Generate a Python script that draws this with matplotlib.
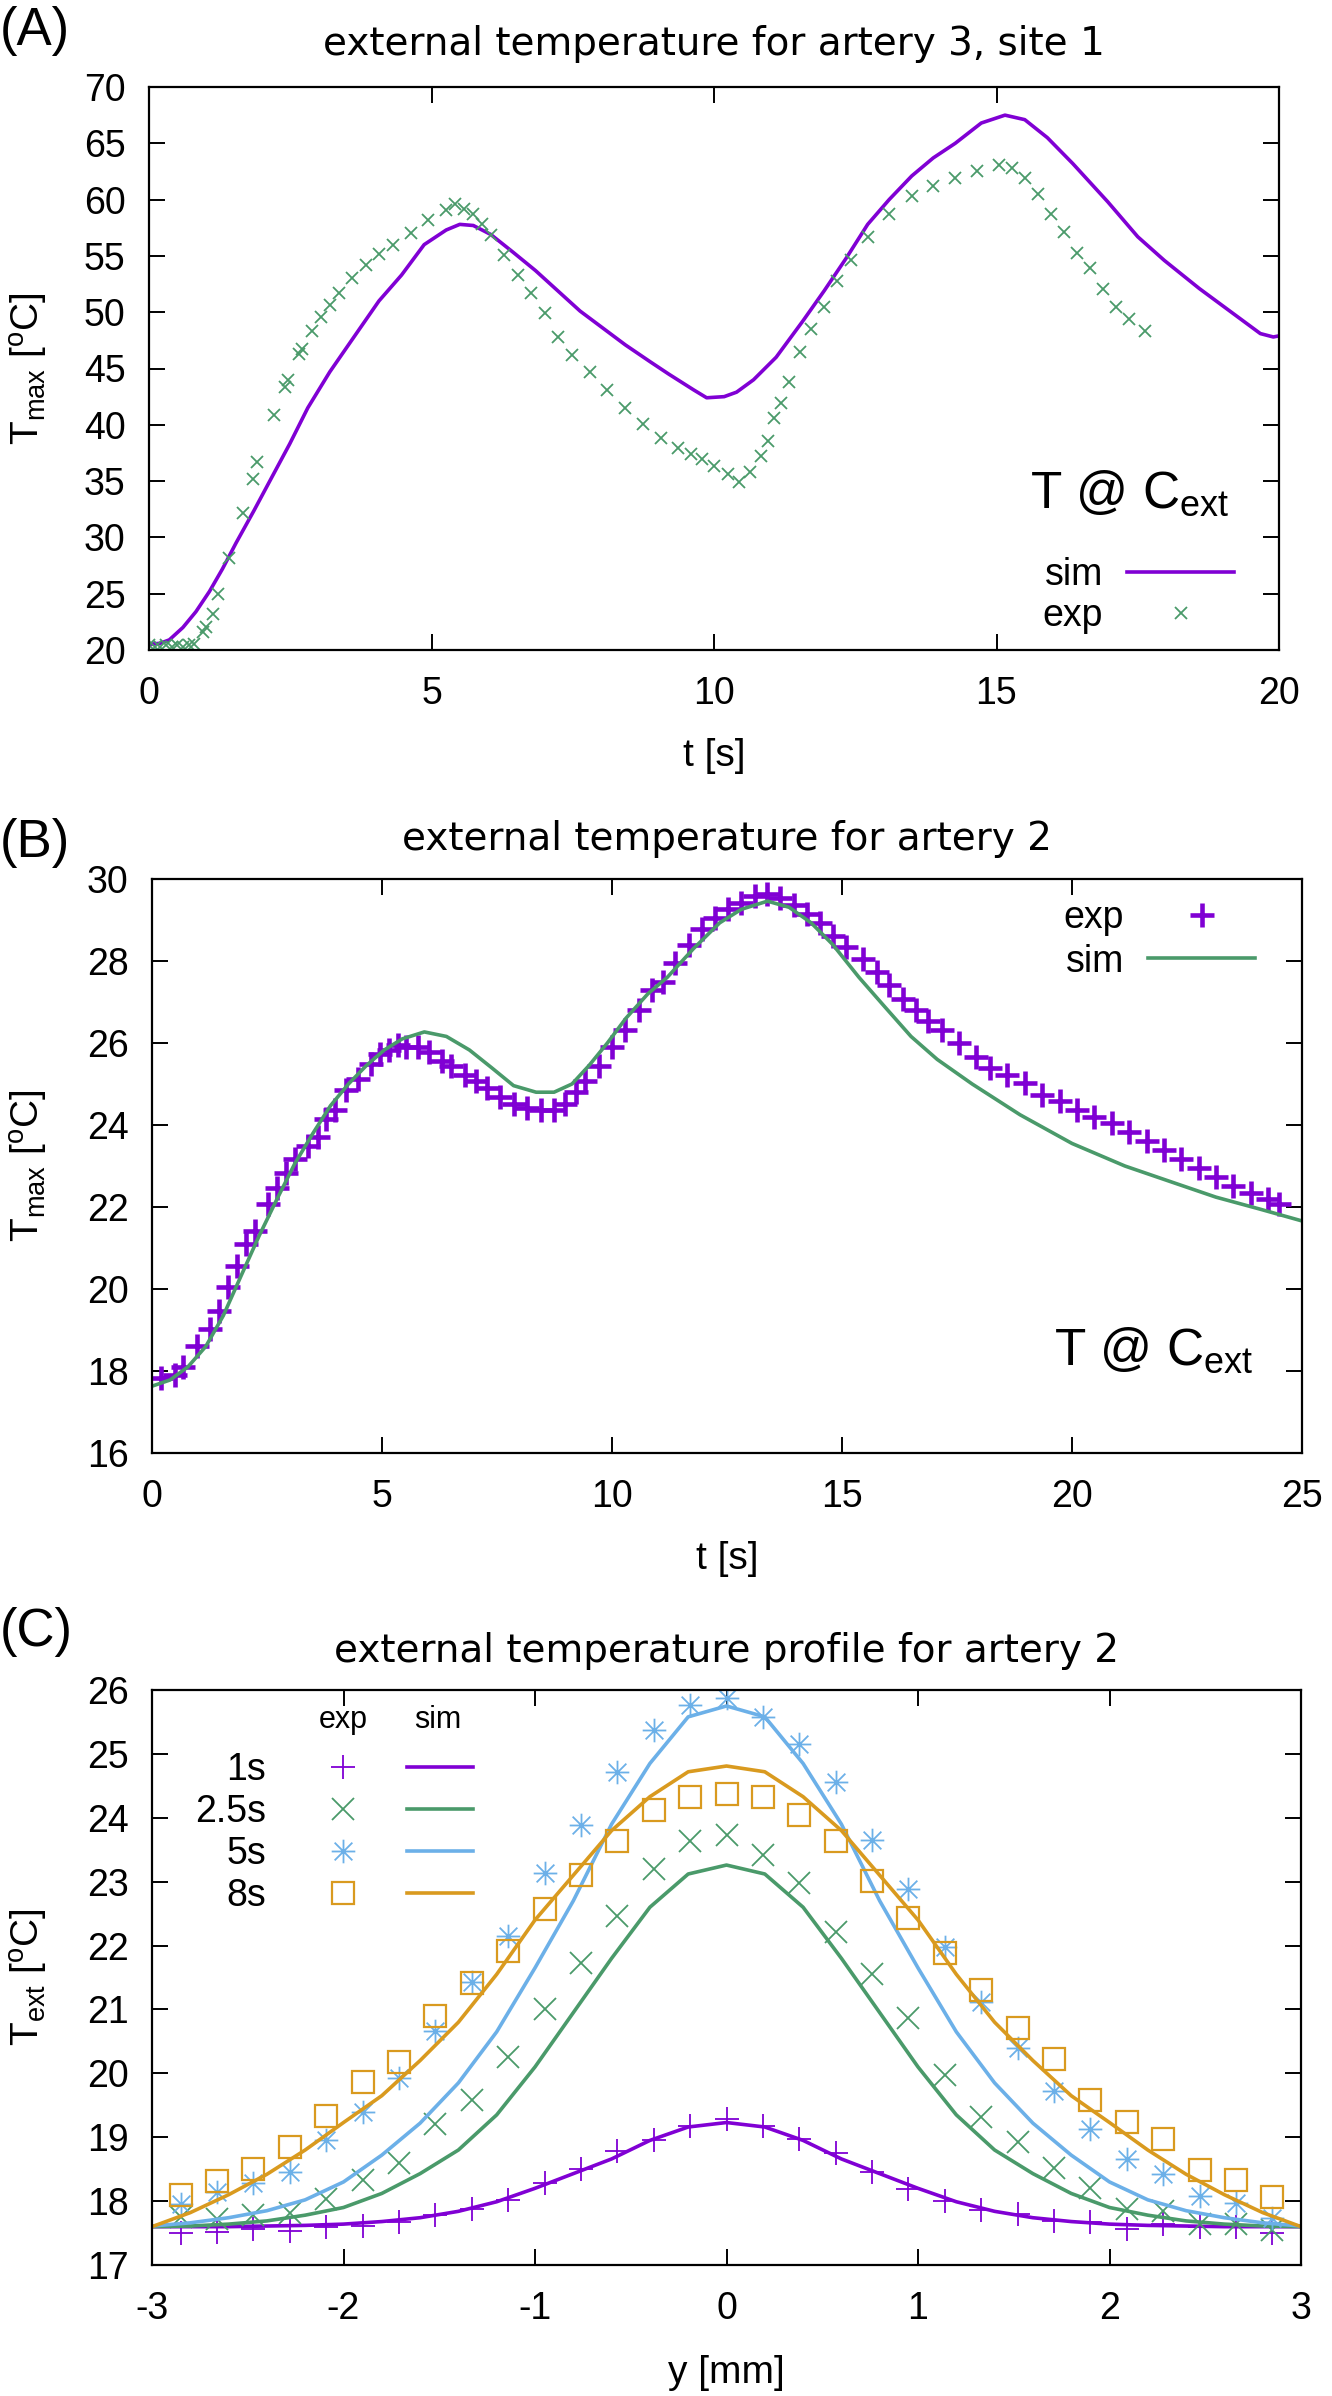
import matplotlib
matplotlib.use("Agg")
import matplotlib.pyplot as plt
from matplotlib.lines import Line2D
from matplotlib.path import Path
from matplotlib.legend_handler import HandlerTuple

plt.rcParams['font.family'] = ['Liberation Sans', 'DejaVu Sans']
plt.rcParams['mathtext.default'] = 'regular'
plt.rcParams['axes.unicode_minus'] = False

W, H, DPI = 1332, 2396, 100

PURPLE = '#8000d4'
GREEN = '#4a9a6a'
BLUE = '#6cb0e8'
ORANGE = '#d99a1f'

# ---- (A) artery 3, site 1 ----
a_sim_t = [0.0, 0.2, 0.36, 0.6, 0.83, 1.07, 1.3, 1.54, 1.86, 2.18, 2.49, 2.81, 3.2, 3.6, 4.07,
           4.47, 4.87, 5.26, 5.5, 5.74, 6.05, 6.45, 6.84, 7.63, 8.43, 8.87, 9.2, 9.64, 9.87,
           10.18, 10.4, 10.7, 11.1, 11.57, 11.95, 12.34, 12.72, 13.1, 13.5, 13.88, 14.27,
           14.73, 15.15, 15.5, 15.9, 16.35, 16.97, 17.5, 17.97, 18.59, 19.13, 19.67, 19.9, 20.0]
a_sim_T = [20.5, 20.6, 20.9, 22.0, 23.4, 25.2, 27.2, 29.5, 32.4, 35.4, 38.3, 41.5, 44.7, 47.6, 51.0,
           53.3, 56.0, 57.3, 57.8, 57.7, 56.9, 55.3, 53.7, 50.1, 47.1, 45.6, 44.5, 43.1, 42.4,
           42.5, 42.9, 44.0, 46.0, 49.2, 51.9, 54.8, 57.8, 60.0, 62.1, 63.7, 65.0,
           66.8, 67.5, 67.1, 65.5, 63.2, 59.8, 56.7, 54.6, 52.1, 50.1, 48.1, 47.8, 47.9]

a_exp_t = [0.0, 0.1, 0.2, 0.3, 0.4, 0.5, 0.6, 0.7, 0.8, 0.95, 1.0, 1.13, 1.23, 1.42, 1.66, 1.84, 1.91,
           2.22, 2.41, 2.46, 2.65, 2.71, 2.89, 3.05, 3.2, 3.36, 3.6, 3.84, 4.07, 4.31, 4.63, 4.94,
           5.26, 5.42, 5.58, 5.74, 5.9, 6.05, 6.29, 6.53, 6.76, 7.0, 7.24, 7.48, 7.8, 8.1, 8.43,
           8.74, 9.06, 9.37, 9.6, 9.79, 10.0, 10.25, 10.45, 10.64, 10.83, 10.95, 11.06, 11.18,
           11.33, 11.53, 11.72, 11.95, 12.18, 12.42, 12.72, 13.1, 13.5, 13.88, 14.27, 14.65,
           15.04, 15.27, 15.5, 15.73, 15.96, 16.2, 16.43, 16.66, 16.89, 17.12, 17.35, 17.62]
a_exp_T = [20.4, 20.3, 20.3, 20.4, 20.3, 20.4, 20.3, 20.4, 20.5, 21.6, 22.0, 23.2, 25.0, 28.2, 32.2, 35.2, 36.7,
           40.9, 43.4, 44.0, 46.3, 46.7, 48.3, 49.6, 50.6, 51.7, 53.0, 54.2, 55.2, 56.0, 57.0, 58.2,
           59.1, 59.6, 59.2, 58.7, 57.8, 56.9, 55.1, 53.3, 51.7, 49.9, 47.8, 46.2, 44.7, 43.1, 41.5,
           40.1, 38.8, 37.9, 37.4, 37.0, 36.3, 35.6, 34.9, 35.8, 37.2, 38.6, 40.6, 41.9,
           43.8, 46.5, 48.5, 50.5, 52.8, 54.6, 56.7, 58.7, 60.3, 61.2, 61.9, 62.5,
           63.1, 62.8, 61.9, 60.5, 58.7, 57.1, 55.3, 53.9, 52.1, 50.5, 49.4, 48.3]

# ---- (B) artery 2 ----
b_sim_t = [0.0, 0.39, 0.78, 1.17, 1.55, 1.94, 2.33, 2.72, 3.1, 3.5, 3.88, 4.27, 4.66, 5.05, 5.44,
           5.92, 6.4, 6.9, 7.38, 7.86, 8.35, 8.74, 9.13, 9.5, 9.9, 10.3, 10.78, 11.2, 11.77, 12.34,
           12.81, 13.38, 13.85, 14.33, 14.8, 15.37, 15.94, 16.5, 17.07, 17.83, 18.87, 20.0, 21.15,
           22.19, 23.13, 24.08, 25.0]
b_sim_T = [17.63, 17.78, 18.1, 18.6, 19.35, 20.33, 21.3, 22.2, 23.05, 23.8, 24.47, 25.0, 25.45, 25.83, 26.1,
           26.27, 26.16, 25.83, 25.4, 24.96, 24.8, 24.8, 25.0, 25.45, 26.0, 26.6, 27.2, 27.6, 28.3, 28.93,
           29.26, 29.46, 29.31, 28.93, 28.4, 27.6, 26.87, 26.16, 25.6, 25.0, 24.25, 23.55, 23.0,
           22.6, 22.24, 21.95, 21.66]

b_exp_t = [0.19, 0.49, 0.68, 0.97, 1.26, 1.46, 1.65, 1.84, 2.04, 2.23, 2.52, 2.72, 2.91, 3.1, 3.4,
           3.6, 3.79, 3.98, 4.22, 4.47, 4.76, 4.95, 5.15, 5.34, 5.53, 5.78, 6.02, 6.31, 6.5, 6.8,
           7.04, 7.28, 7.57, 7.86, 8.16, 8.45, 8.74, 8.98, 9.22, 9.42, 9.71, 10.0, 10.29, 10.58,
           10.87, 11.1, 11.38, 11.67, 11.96, 12.24, 12.52, 12.81, 13.1, 13.38, 13.66, 13.95, 14.23,
           14.52, 14.8, 15.09, 15.46, 15.75, 16.03, 16.32, 16.6, 16.88, 17.17, 17.55, 17.92, 18.21,
           18.59, 18.97, 19.35, 19.73, 20.1, 20.48, 20.86, 21.24, 21.62, 22.0, 22.38, 22.76, 23.13,
           23.51, 23.9, 24.27, 24.5]
b_exp_T = [17.83, 17.9, 18.1, 18.6, 19.03, 19.46, 20.06, 20.55, 21.1, 21.42, 22.07, 22.46, 22.84, 23.17, 23.49,
           23.7, 24.14, 24.36, 24.85, 25.12, 25.5, 25.72, 25.83, 25.94, 25.9, 25.9, 25.78, 25.56, 25.45, 25.23,
           25.07, 24.9, 24.69, 24.52, 24.42, 24.36, 24.36, 24.52, 24.8, 25.07, 25.45, 25.9, 26.32, 26.81,
           27.3, 27.5, 27.95, 28.39, 28.77, 29.04, 29.26, 29.42, 29.59, 29.64, 29.53, 29.37, 29.15,
           28.93, 28.6, 28.34, 28.06, 27.74, 27.41, 27.08, 26.81, 26.54, 26.32, 26.0, 25.67, 25.4,
           25.23, 25.02, 24.74, 24.58, 24.36, 24.2, 24.04, 23.82, 23.6, 23.38, 23.17, 22.95, 22.73,
           22.51, 22.35, 22.19, 22.08]

# ---- (C) profile for artery 2 ----
c_times = ['1s', '2.5s', '5s', '8s']
c_y_exp = [-2.85, -2.66, -2.47, -2.28, -2.09, -1.9, -1.71, -1.52, -1.33, -1.14, -0.95, -0.76, -0.57,
           -0.38, -0.19, 0.0, 0.19, 0.38, 0.57, 0.76, 0.95, 1.14, 1.33, 1.52, 1.71, 1.9, 2.09, 2.28,
           2.47, 2.66, 2.85]
c_exp_1s = [17.5, 17.52, 17.57, 17.54, 17.6, 17.61, 17.68, 17.79, 17.88, 18.01, 18.28, 18.51, 18.79,
            18.96, 19.17, 19.28, 19.17, 18.98, 18.75, 18.46, 18.19, 18.0, 17.86, 17.8, 17.69, 17.67,
            17.56, 17.64, 17.6, 17.6, 17.5]
c_exp_2p5s = [17.75, 17.72, 17.79, 17.81, 18.04, 18.33, 18.6, 19.2, 19.58, 20.25, 21.0, 21.72, 22.46,
              23.2, 23.64, 23.73, 23.42, 22.98, 22.22, 21.55, 20.87, 19.98, 19.31, 18.92, 18.52, 18.2,
              17.87, 17.84, 17.64, 17.64, 17.55]
c_exp_5s = [17.95, 18.15, 18.28, 18.46, 18.95, 19.4, 19.93, 20.67, 21.43, 22.15, 23.14, 23.89, 24.72,
            25.37, 25.77, 25.87, 25.58, 25.16, 24.56, 23.65, 22.89, 21.97, 21.12, 20.39, 19.72, 19.13,
            18.66, 18.43, 18.08, 17.97, 17.74]
c_exp_8s = [18.1, 18.31, 18.51, 18.85, 19.34, 19.87, 20.18, 20.89, 21.42, 21.91, 22.58, 23.1, 23.64,
            24.12, 24.32, 24.37, 24.32, 24.05, 23.64, 23.01, 22.43, 21.88, 21.31, 20.71, 20.22, 19.58,
            19.24, 18.97, 18.49, 18.33, 18.06]

c_y_sim = [-3.0, -2.8, -2.6, -2.4, -2.2, -2.0, -1.8, -1.6, -1.4, -1.2, -1.0, -0.8, -0.6, -0.4, -0.2,
           0.0, 0.2, 0.4, 0.6, 0.8, 1.0, 1.2, 1.4, 1.6, 1.8, 2.0, 2.2, 2.4, 2.6, 2.8, 3.0]
c_sim_1s = [17.6, 17.6, 17.6, 17.61, 17.62, 17.64, 17.68, 17.74, 17.84, 17.99, 18.2, 18.43, 18.66, 18.95,
            19.16, 19.23, 19.16, 18.95, 18.66, 18.43, 18.2, 17.99, 17.84, 17.74, 17.68, 17.64, 17.62,
            17.61, 17.6, 17.6, 17.6]
c_sim_2p5s = [17.6, 17.61, 17.64, 17.69, 17.78, 17.9, 18.12, 18.43, 18.8, 19.35, 20.1, 20.95, 21.8, 22.6,
              23.12, 23.26, 23.12, 22.6, 21.8, 20.95, 20.1, 19.35, 18.8, 18.43, 18.12, 17.9, 17.78,
              17.69, 17.64, 17.61, 17.6]
c_sim_5s = [17.61, 17.66, 17.74, 17.85, 18.02, 18.3, 18.72, 19.22, 19.85, 20.65, 21.65, 22.7, 23.9, 24.85,
            25.58, 25.75, 25.58, 24.85, 23.9, 22.7, 21.65, 20.65, 19.85, 19.22, 18.72, 18.3, 18.02,
            17.85, 17.74, 17.66, 17.61]
c_sim_8s = [17.6, 17.82, 18.1, 18.42, 18.8, 19.23, 19.65, 20.2, 20.8, 21.55, 22.4, 23.1, 23.8, 24.33,
            24.72, 24.81, 24.72, 24.33, 23.8, 23.1, 22.4, 21.55, 20.8, 20.2, 19.65, 19.23, 18.8, 18.42,
            18.1, 17.82, 17.6]


def box(left, top, right, bottom):
    # pixel box -> figure fraction
    return [left / W, 1 - bottom / H, (right - left) / W, (bottom - top) / H]


def fx(x):
    return x / W


def fy(y):
    return 1 - y / H


def style(ax):
    for s in ax.spines.values():
        s.set_linewidth(1.6)
    ax.tick_params(direction='in', length=11.5, width=1.4, top=True, right=True, labelsize=27)
    ax.tick_params(axis='x', pad=19)
    ax.tick_params(axis='y', pad=17)


TITLE_FONT = dict(fontsize=28, family='DejaVu Sans')
LABEL_FS = 28

fig = plt.figure(figsize=(W / DPI, H / DPI), dpi=DPI)

# ---------------- panel A ----------------
axA = fig.add_axes(box(149, 87, 1279, 650))
axA.plot(a_sim_t, a_sim_T, color=PURPLE, lw=2.6, label='sim')
axA.plot(a_exp_t, a_exp_T, ls='none', marker='x', ms=9, mew=1.3, color=GREEN, label='exp')
axA.set_xlim(0, 20)
axA.set_ylim(20, 70)
axA.set_xticks(range(0, 21, 5))
axA.set_yticks(range(20, 71, 5))
style(axA)
axA.set_title('external temperature for artery 3, site 1', pad=23, **TITLE_FONT)
axA.set_xlabel('t [s]', fontsize=LABEL_FS, va='center')
axA.xaxis.set_label_coords(0.5, (650 - 756) / 563)
axA.set_ylabel(r'T$_{max}$ [$^{o}$C]', fontsize=LABEL_FS, va='center')
axA.yaxis.set_label_coords((29 - 149) / 1130, 0.5)
axA.legend(loc='upper right', bbox_to_anchor=(fx(1234), fy(557)), bbox_transform=fig.transFigure,
           frameon=False, markerfirst=False, fontsize=27, handlelength=2.85, handletextpad=0.64,
           borderpad=0, borderaxespad=0, labelspacing=0.13)
fig.text(fx(1030), fy(508), r'T @ C$_{ext}$', fontsize=37, va='baseline', ha='left')
fig.text(0, fy(31), '(A)', fontsize=38, va='center', ha='left')

# ---------------- panel B ----------------
axB = fig.add_axes(box(152, 879, 1302, 1453))
axB.plot(b_exp_t, b_exp_T, ls='none', marker='+', ms=17, mew=3.3, color=PURPLE, label='exp')
axB.plot(b_sim_t, b_sim_T, color=GREEN, lw=2.6, label='sim')
axB.set_xlim(0, 25)
axB.set_ylim(16, 30)
axB.set_xticks(range(0, 26, 5))
axB.set_yticks(range(16, 31, 2))
style(axB)
axB.set_title('external temperature for artery 2', pad=21, **TITLE_FONT)
axB.set_xlabel('t [s]', fontsize=LABEL_FS, va='center')
axB.xaxis.set_label_coords(0.5, (1453 - 1559) / 574)
axB.set_ylabel(r'T$_{max}$ [$^{o}$C]', fontsize=LABEL_FS, va='center')
axB.yaxis.set_label_coords((29 - 152) / 1150, 0.5)
axB.legend(loc='upper right', bbox_to_anchor=(fx(1255), fy(900)), bbox_transform=fig.transFigure,
           frameon=False, markerfirst=False, fontsize=27, handlelength=2.85, handletextpad=0.64,
           borderpad=0, borderaxespad=0, labelspacing=0.2)
fig.text(fx(1054), fy(1365), r'T @ C$_{ext}$', fontsize=37, va='baseline', ha='left')
fig.text(0, fy(843), '(B)', fontsize=38, va='center', ha='left')

# ---------------- panel C ----------------
star = Path([(-1, 0), (1, 0), (0, -1), (0, 1), (-0.75, -0.75), (0.75, 0.75), (-0.75, 0.75), (0.75, -0.75)],
            [Path.MOVETO, Path.LINETO] * 4)
c_exp = [c_exp_1s, c_exp_2p5s, c_exp_5s, c_exp_8s]
c_sim = [c_sim_1s, c_sim_2p5s, c_sim_5s, c_sim_8s]
c_colors = [PURPLE, GREEN, BLUE, ORANGE]
c_markers = [dict(marker='+', ms=17, mew=1.3),
             dict(marker='x', ms=16, mew=1.3),
             dict(marker=star, ms=17, mew=1.3),
             dict(marker='s', ms=16.5, mew=1.6, mfc='none')]

axC = fig.add_axes(box(152, 1690, 1301, 2265))
handles = []
for exp, sim, col, mk in zip(c_exp, c_sim, c_colors, c_markers):
    axC.plot(c_y_exp, exp, ls='none', color=col, fillstyle='none', **mk)
    axC.plot(c_y_sim, sim, color=col, lw=2.6)
    handles.append((Line2D([], [], ls='none', color=col, fillstyle='none', **mk),
                    Line2D([], [], color=col, lw=2.6)))
axC.set_xlim(-3, 3)
axC.set_ylim(17, 26)
axC.set_xticks(range(-3, 4))
axC.set_yticks(range(17, 27))
style(axC)
axC.set_title('external temperature profile for artery 2', pad=20, **TITLE_FONT)
axC.set_xlabel('y [mm]', fontsize=LABEL_FS, va='center')
axC.xaxis.set_label_coords(0.5, (2265 - 2373) / 575)
axC.set_ylabel(r'T$_{ext}$ [$^{o}$C]', fontsize=LABEL_FS, va='center')
axC.yaxis.set_label_coords((29 - 152) / 1149, 0.5)
axC.legend(handles, c_times, handler_map={tuple: HandlerTuple(ndivide=None, pad=0.83)},
           loc='upper right', bbox_to_anchor=(fx(473), fy(1752)), bbox_transform=fig.transFigure,
           frameon=False, markerfirst=False, fontsize=27, handlelength=4.35, handletextpad=1.17,
           borderpad=0, borderaxespad=0, labelspacing=0.16)
fig.text(fx(343), fy(1720), 'exp', fontsize=22, ha='center', va='center')
fig.text(fx(438), fy(1720), 'sim', fontsize=22, ha='center', va='center')
fig.text(0, fy(1632), '(C)', fontsize=38, va='center', ha='left')

fig.savefig('out.png', dpi=DPI)
